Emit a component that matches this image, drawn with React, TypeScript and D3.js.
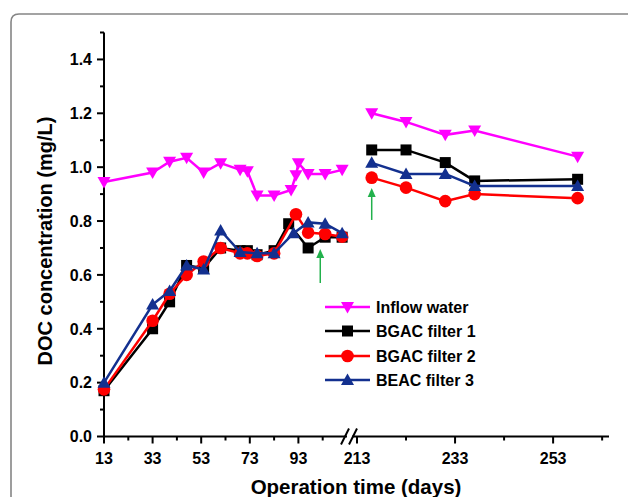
import React from 'react';
import * as d3 from 'd3';

// ---------- data ----------
const inflowDays = [13, 33, 40, 47, 54, 61, 69, 72, 76, 83, 90, 92, 93, 97, 104, 111, 216, 223, 231, 237, 258];
const inflowValues = [0.945, 0.98, 1.02, 1.035, 0.98, 1.015, 0.99, 0.985, 0.895, 0.895, 0.915, 0.97, 1.015, 0.975, 0.975, 0.99, 1.2, 1.168, 1.12, 1.136, 1.039];

const bgac1Days = [13, 33, 40, 47, 54, 61, 69, 72, 76, 83, 89, 97, 104, 111, 216, 223, 231, 237, 258];
const bgac1Values = [0.17, 0.4, 0.5, 0.635, 0.625, 0.7, 0.69, 0.69, 0.675, 0.69, 0.79, 0.7, 0.74, 0.74, 1.064, 1.064, 1.017, 0.949, 0.955];

const bgac2Days = [13, 33, 40, 47, 54, 61, 69, 72, 76, 83, 92, 97, 104, 111, 216, 223, 231, 237, 258];
const bgac2Values = [0.175, 0.43, 0.53, 0.6, 0.65, 0.7, 0.68, 0.68, 0.67, 0.68, 0.825, 0.757, 0.752, 0.742, 0.961, 0.924, 0.874, 0.9, 0.885];

const beac3Days = [13, 33, 40, 47, 54, 61, 69, 76, 83, 91, 97, 104, 111, 216, 223, 231, 237, 258];
const beac3Values = [0.2, 0.49, 0.54, 0.635, 0.62, 0.765, 0.685, 0.68, 0.68, 0.755, 0.795, 0.79, 0.755, 1.016, 0.975, 0.975, 0.93, 0.93];

const seriesNames = ['Inflow water', 'BGAC filter 1', 'BGAC filter 2', 'BEAC filter 3'];
const seriesColors = ['#ff00ff', '#000000', '#ff0000', '#13308f'];
const seriesMarkers = ['down', 'square', 'circle', 'up'];

const yTicks = [0, 0.2, 0.4, 0.6, 0.8, 1.0, 1.2, 1.4];
const yMinorTicks = [0.1, 0.3, 0.5, 0.7, 0.9, 1.1, 1.3, 1.5];
const leftTicks = [13, 33, 53, 73, 93];
const leftMinorTicks = [23, 43, 63, 83, 103];
const rightTicks = [213, 233, 253];
const rightMinorTicks = [223, 243, 263];

const arrowDays = [102, 216];
const arrowFrom = [0.57, 0.804];
const arrowTo = [0.696, 0.923];

// ---------- layout ----------
const Y0 = 436.5;
const AX = 104;
const yScale = d3.scaleLinear().domain([0, 1.5]).range([Y0, 32.5]);
const xLeft = d3.scaleLinear().domain([13, 113]).range([AX, 347]);
const xRight = d3.scaleLinear().domain([212, 264.4]).range([352.1, 609]);
const BREAK = 150;
const xPos = (d: number) => (d < BREAK ? xLeft(d) : xRight(d));

const FONT = '"Liberation Sans", Arial, Helvetica, sans-serif';

function Marker({ type, x, y, color }: { type: string; x: number; y: number; color: string }) {
  if (type === 'square') return <rect x={x - 5.5} y={y - 5.5} width={11} height={11} fill={color} />;
  if (type === 'circle') return <circle cx={x} cy={y} r={6.3} fill={color} />;
  if (type === 'down')
    return <path d={`M${x - 6.5},${y - 5} L${x + 6.5},${y - 5} L${x},${y + 6.5} Z`} fill={color} />;
  return <path d={`M${x},${y - 6.5} L${x + 6.5},${y + 5} L${x - 6.5},${y + 5} Z`} fill={color} />;
}

export default function App() {
  const allDays = [inflowDays, bgac1Days, bgac2Days, beac3Days];
  const allValues = [inflowValues, bgac1Values, bgac2Values, beac3Values];
  const line = d3
    .line<[number, number]>()
    .x((p) => xPos(p[0]))
    .y((p) => yScale(p[1]));

  const legendY = [307, 331, 356, 380];
  const tickLabels = [...leftTicks, ...rightTicks];

  return (
    <svg
      width={630}
      height={497}
      style={{ position: 'absolute', left: 0, top: 0, background: '#fff' }}
      fontFamily={FONT}
    >
      {/* frame */}
      <path d="M11,497 L11,22 Q11,14 19,14 L628,14" fill="none" stroke="#858585" strokeWidth={1.6} />

      {/* axes */}
      <line x1={AX} x2={AX} y1={yScale(1.5)} y2={Y0 + 1} stroke="#000" strokeWidth={2} />
      <line x1={AX - 1} x2={xLeft(113)} y1={Y0} y2={Y0} stroke="#000" strokeWidth={2} />
      <line x1={xRight(212)} x2={xRight(264.4)} y1={Y0} y2={Y0} stroke="#000" strokeWidth={2} />
      {/* break marks */}
      {[345, 353].map((bx, i) => (
        <line key={i} x1={bx - 4} y1={Y0 + 8} x2={bx + 4} y2={Y0 - 8} stroke="#000" strokeWidth={2} />
      ))}

      {/* y ticks */}
      {yTicks.map((t) => (
        <g key={t}>
          <line x1={AX - 7} x2={AX} y1={yScale(t)} y2={yScale(t)} stroke="#000" strokeWidth={2} />
          <text x={AX - 12} y={yScale(t)} dy="0.36em" textAnchor="end" fontSize={16} fontWeight="bold">
            {t.toFixed(1)}
          </text>
        </g>
      ))}
      {yMinorTicks.map((t) => (
        <line key={t} x1={AX - 4} x2={AX} y1={yScale(t)} y2={yScale(t)} stroke="#000" strokeWidth={2} />
      ))}

      {/* x ticks */}
      {[...leftTicks.map((t) => xLeft(t)), ...rightTicks.map((t) => xRight(t))].map((x, i) => (
        <g key={i}>
          <line x1={x} x2={x} y1={Y0} y2={Y0 + 7} stroke="#000" strokeWidth={2} />
          <text x={x} y={Y0 + 27} textAnchor="middle" fontSize={16} fontWeight="bold">
            {tickLabels[i]}
          </text>
        </g>
      ))}
      {[...leftMinorTicks.map((t) => xLeft(t)), ...rightMinorTicks.map((t) => xRight(t))].map((x, i) => (
        <line key={i} x1={x} x2={x} y1={Y0} y2={Y0 + 4} stroke="#000" strokeWidth={2} />
      ))}

      {/* axis titles */}
      <text x={356} y={494} textAnchor="middle" fontSize={20.5} fontWeight="bold">
        Operation time (days)
      </text>
      <text transform={`translate(52,241) rotate(-90)`} textAnchor="middle" fontSize={20} fontWeight="bold">
        DOC concentration (mg/L)
      </text>

      {/* series */}
      {allDays.map((days, si) => {
        const pts: [number, number][] = days.map((d, i) => [d, allValues[si][i]]);
        const leftPts = pts.filter((p) => p[0] < BREAK);
        const rightPts = pts.filter((p) => p[0] >= BREAK);
        return (
          <g key={si}>
            <path d={line(leftPts) || ''} fill="none" stroke={seriesColors[si]} strokeWidth={2.5} />
            <path d={line(rightPts) || ''} fill="none" stroke={seriesColors[si]} strokeWidth={2.5} />
            {pts.map((p, i) => (
              <Marker key={i} type={seriesMarkers[si]} x={xPos(p[0])} y={yScale(p[1])} color={seriesColors[si]} />
            ))}
          </g>
        );
      })}

      {/* arrows */}
      {arrowDays.map((d, i) => {
        const x = xPos(d);
        const y1 = yScale(arrowFrom[i]);
        const y2 = yScale(arrowTo[i]);
        return (
          <g key={i}>
            <line x1={x} x2={x} y1={y1} y2={y2 + 6} stroke="#22b14c" strokeWidth={1.5} />
            <path d={`M${x},${y2} L${x + 4},${y2 + 9} L${x - 4},${y2 + 9} Z`} fill="#22b14c" />
          </g>
        );
      })}

      {/* legend */}
      {seriesNames.map((name, i) => (
        <g key={name}>
          <line x1={325} x2={370} y1={legendY[i]} y2={legendY[i]} stroke={seriesColors[i]} strokeWidth={2.5} />
          <Marker type={seriesMarkers[i]} x={347.5} y={legendY[i]} color={seriesColors[i]} />
          <text x={376} y={legendY[i]} dy="0.36em" fontSize={16} fontWeight="bold">
            {name}
          </text>
        </g>
      ))}
    </svg>
  );
}
